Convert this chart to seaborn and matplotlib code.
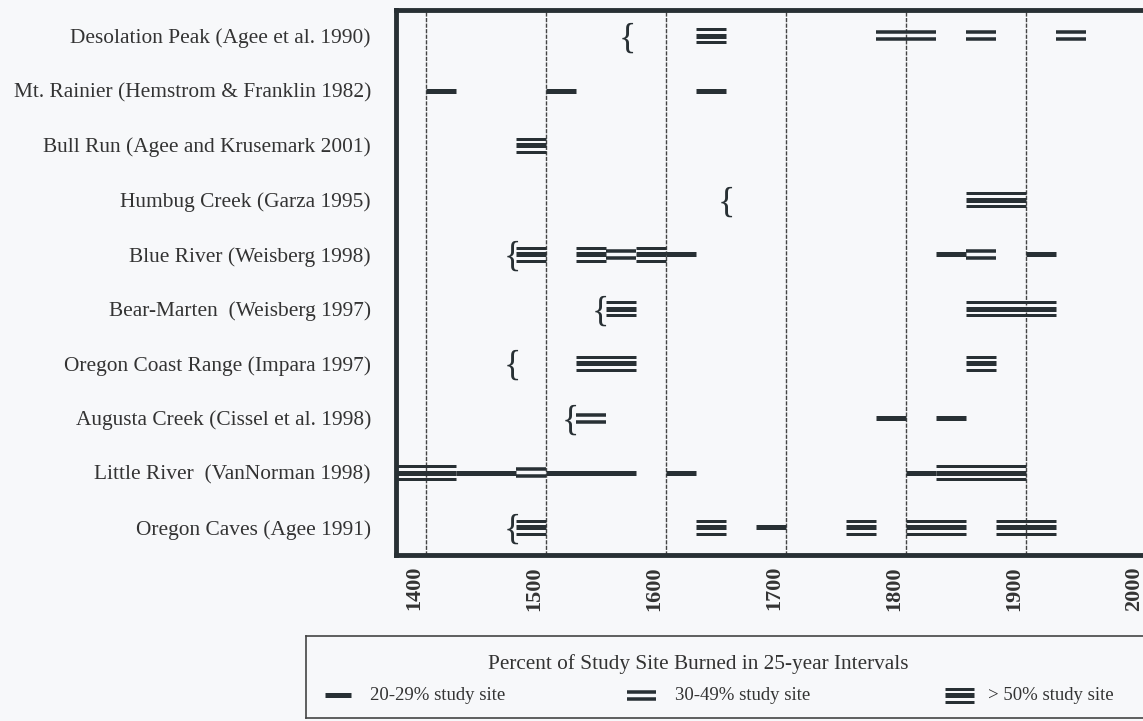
import numpy as np
import pandas as pd
import seaborn as sns
import matplotlib.pyplot as plt
from matplotlib.transforms import ScaledTranslation

sites = ["Desolation Peak (Agee et al. 1990)",
         "Mt. Rainier (Hemstrom & Franklin 1982)",
         "Bull Run (Agee and Krusemark 2001)",
         "Humbug Creek (Garza 1995)",
         "Blue River (Weisberg 1998)",
         "Bear-Marten  (Weisberg 1997)",
         "Oregon Coast Range (Impara 1997)",
         "Augusta Creek (Cissel et al. 1998)",
         "Little River  (VanNorman 1998)",
         "Oregon Caves (Agee 1991)"]

# burned blocks: site index, start, end, class (1 = 20-29%, 2 = 30-49%, 3 = >50%)
seg_site = [0, 0, 0, 0,
            1, 1, 1,
            2,
            3,
            4, 4, 4, 4, 4, 4, 4, 4,
            5, 5,
            6, 6,
            7, 7, 7,
            8, 8, 8, 8, 8, 8, 8,
            9, 9, 9, 9, 9, 9]
seg_start = [1625, 1775, 1850, 1925,
             1400, 1500, 1625,
             1475,
             1850,
             1475, 1525, 1550, 1575, 1600, 1825, 1850, 1900,
             1550, 1850,
             1525, 1850,
             1525, 1775, 1825,
             1375, 1425, 1475, 1500, 1600, 1800, 1825,
             1475, 1625, 1675, 1750, 1800, 1875]
seg_end = [1650, 1825, 1875, 1950,
           1425, 1525, 1650,
           1500,
           1900,
           1500, 1550, 1575, 1600, 1625, 1850, 1875, 1925,
           1575, 1925,
           1575, 1875,
           1550, 1800, 1850,
           1425, 1475, 1500, 1575, 1625, 1825, 1900,
           1500, 1650, 1700, 1775, 1850, 1925]
seg_class = [3, 2, 2, 2,
             1, 1, 1,
             3,
             3,
             3, 3, 2, 3, 1, 1, 2, 1,
             3, 3,
             3, 3,
             2, 1, 1,
             3, 1, 2, 1, 1, 1, 3,
             3, 3, 1, 3, 3, 3]

# start of record marks "{"
record_site = [0, 3, 4, 5, 6, 7, 9]
record_year = [1568, 1650, 1472, 1545, 1472, 1520, 1472]

years = [1400, 1500, 1600, 1700, 1800, 1900, 2000]
legend_title = "Percent of Study Site Burned in 25-year Intervals"
legend_labels = ["20-29% study site", "30-49% study site", "> 50% study site"]

INK = "#283034"
BG = "#f7f8fa"
SERIF = ["Liberation Serif", "DejaVu Serif"]
PITCH = 54.6  # px between rows


def layers(cls):
    # (offset px, width px) of the strokes for each class
    if cls == 1:
        return [(0, 5)]
    if cls == 2:
        return [(-3.5, 3.5), (3.5, 3.5)]
    return [(-6.5, 3), (0, 5), (6.5, 3)]


sns.set_theme(style="white")
plt.rcParams["font.family"] = SERIF

fig = plt.figure(figsize=(11.43, 7.21), dpi=100, facecolor=BG)
ax = fig.add_axes([396 / 1143, 1 - 555 / 721, (1150 - 396) / 1143, 545 / 721])
ax.set_facecolor(BG)

rows = []
uid = 0
for s, a, b, c in zip(seg_site, seg_start, seg_end, seg_class):
    for off, w in layers(c):
        for x in (a, b):
            rows.append({"year": x, "y": s + off / PITCH, "unit": uid, "w": w})
        uid += 1
df = pd.DataFrame(rows)

for w, sub in df.groupby("w"):
    sns.lineplot(data=sub, x="year", y="y", units="unit", estimator=None,
                 color=INK, lw=w * 0.72, solid_capstyle="butt", sort=False,
                 legend=False, ax=ax)

for s, yr in zip(record_site, record_year):
    ax.text(yr, s + 0.06, "{", ha="center", va="center", fontsize=26,
            color=INK, family=SERIF)

ax.set_xlim(1375, 2003)
ax.set_ylim(9.51, -0.476)
ax.set_xticks(years)
ax.set_xticklabels([str(y) for y in years], rotation=90, fontsize=16,
                   fontweight="bold", color="#333333")
ax.set_yticks(range(len(sites)))
ax.set_yticklabels(sites, fontsize=15.4, color="#333333")
ax.tick_params(axis="y", length=0, pad=18)
ax.tick_params(axis="x", length=0, pad=8)
for lab in ax.get_xticklabels():
    lab.set_transform(lab.get_transform() + ScaledTranslation(-0.12, 0, fig.dpi_scale_trans))
ax.set_xlabel("")
ax.set_ylabel("")
ax.grid(axis="x", color="#444444", lw=1, ls=(0, (3, 1)))
ax.grid(axis="y", visible=False)
for sp in ax.spines.values():
    sp.set_color(INK)
    sp.set_linewidth(3.5)

# legend box
lax = fig.add_axes([306 / 1143, 1 - 718 / 721, (1160 - 306) / 1143, 82 / 721])
lax.set_facecolor(BG)
lax.set_xlim(306, 1160)
lax.set_ylim(718, 636)
lax.set_xticks([])
lax.set_yticks([])
for sp in lax.spines.values():
    sp.set_color("#444444")
    sp.set_linewidth(1.2)
lax.text(698, 664, legend_title, ha="center", va="center", fontsize=15.3,
         color="#333333")
key_x = [(325, 351, 370), (627, 656, 675), (945, 974, 988)]
for cls, (x0, x1, tx), lab in zip([1, 2, 3], key_x, legend_labels):
    for off, w in layers(cls):
        lax.plot([x0, x1], [695 + off, 695 + off], color=INK, lw=w * 0.72,
                 solid_capstyle="butt")
    lax.text(tx, 695, lab, ha="left", va="center", fontsize=13.5, color="#333333")

fig.savefig("out.png", dpi=100, facecolor=BG)
